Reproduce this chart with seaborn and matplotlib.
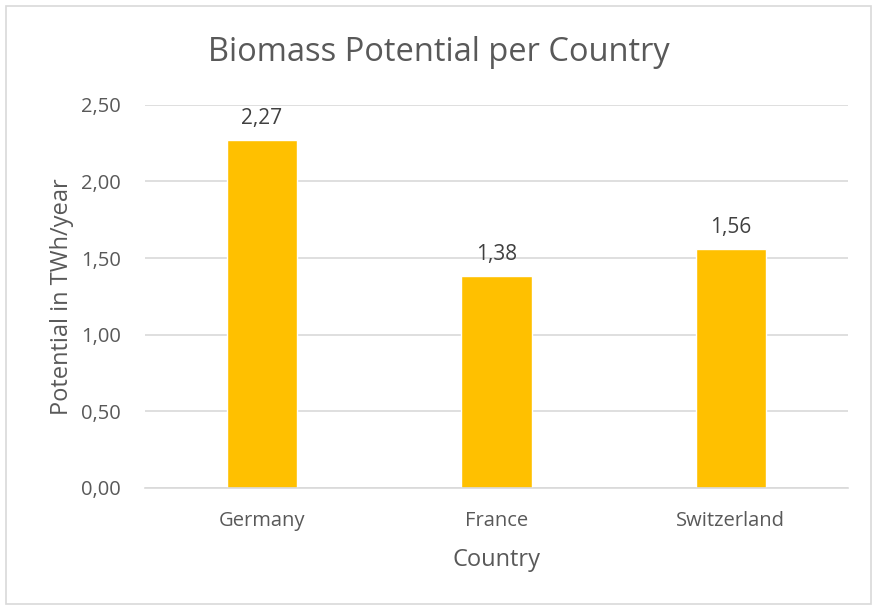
import matplotlib
matplotlib.use("Agg")
import matplotlib.pyplot as plt
import seaborn as sns
from matplotlib.patches import Rectangle
from matplotlib.ticker import FuncFormatter

countries = ["Germany", "France", "Switzerland"]
potential = [2.27, 1.38, 1.56]
yticks = [0.0, 0.5, 1.0, 1.5, 2.0, 2.5]

TEXT = "#595959"
GRID = "#D9D9D9"
BAR = "#FFC000"


def comma(v, pos=None):
    return f"{v:.2f}".replace(".", ",")


def main():
    sns.set_style("white")
    plt.rcParams["font.family"] = ["Open Sans", "DejaVu Sans"]

    fig = plt.figure(figsize=(8.77, 6.06), dpi=100)
    ax = fig.add_axes([0.165, 0.195, 0.802, 0.632])

    sns.barplot(x=countries, y=potential, color=BAR, width=0.3, ax=ax,
                saturation=1, zorder=3)

    ax.set_ylim(0, 2.5)
    ax.set_xlim(-0.5, 2.5)
    ax.set_yticks(yticks)
    ax.yaxis.set_major_formatter(FuncFormatter(comma))
    ax.grid(axis="y", color=GRID, linewidth=1.2, zorder=0)
    for s in ["top", "right", "left"]:
        ax.spines[s].set_visible(False)
    ax.spines["bottom"].set_color(GRID)
    ax.spines["bottom"].set_linewidth(1.2)
    ax.spines["bottom"].set_zorder(4)
    ax.tick_params(axis="both", length=0, colors=TEXT, labelsize=14.5)
    ax.tick_params(axis="y", pad=17)
    ax.tick_params(axis="x", pad=17)

    for i, v in enumerate(potential):
        ax.annotate(comma(v), (i, v), xytext=(0, 8), textcoords="offset points",
                    ha="center", va="bottom", fontsize=15, color="#404040")

    ax.set_xlabel("Country", fontsize=17, color=TEXT, labelpad=12)
    ax.set_ylabel("Potential in TWh/year", fontsize=17, color=TEXT, labelpad=5)
    fig.text(0.5, 0.913, "Biomass Potential per Country", ha="center", va="center",
             fontsize=23.5, color=TEXT)

    fig.patches.append(Rectangle((0.007, 0.004), 0.986, 0.986, transform=fig.transFigure,
                                 fill=False, edgecolor=GRID, linewidth=1.2))

    fig.savefig("out.png", dpi=100)


if __name__ == "__main__":
    main()
